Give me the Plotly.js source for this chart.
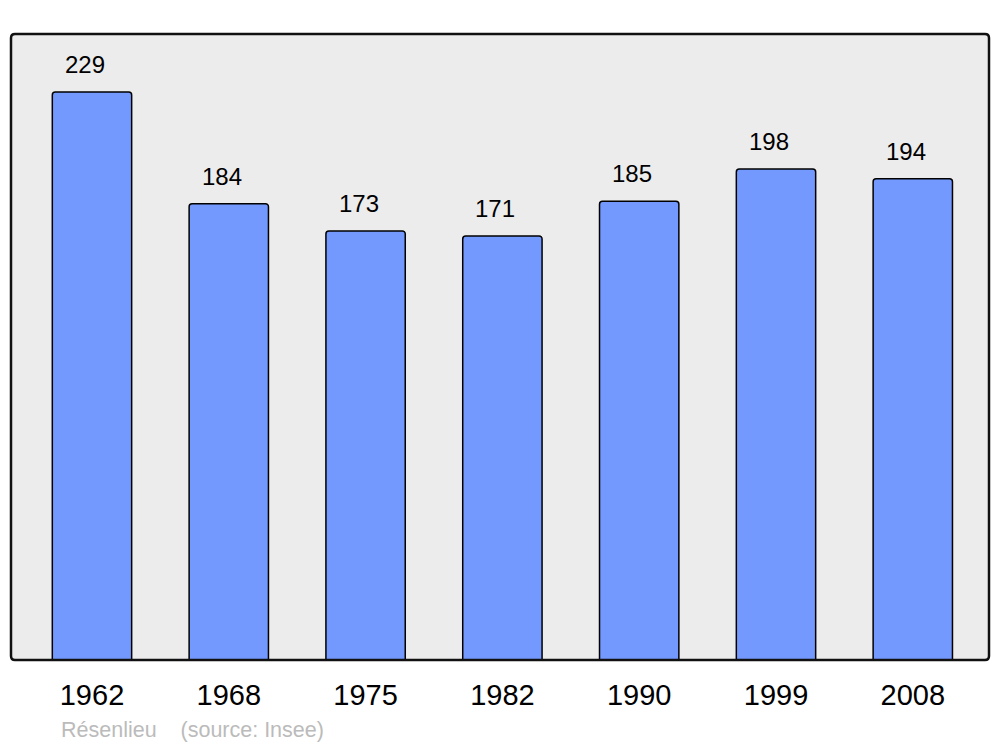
<!DOCTYPE html>
<html>
<head>
<meta charset="utf-8">
<script src="https://cdn.plot.ly/plotly-3.0.1.min.js"></script>
<style>html,body{margin:0;padding:0;background:#fff;}#chart{width:1000px;height:747px;}</style>
</head>
<body>
<div id="chart"></div>
<script>
const years = ["1962", "1968", "1975", "1982", "1990", "1999", "2008"];
const population = [229, 184, 173, 171, 185, 198, 194];
const sourceText = "Résenlieu    (source: Insee)";

const trace = {
  type: "bar",
  x: years,
  y: population,
  width: 0.58,
  marker: {color: "#7399FF", line: {color: "#000", width: 1.5}, cornerradius: 3},
  hoverinfo: "x+y"
};

const annotations = years.map((yr, i) => ({
  x: i, y: population[i], xref: "x", yref: "y",
  text: String(population[i]), showarrow: false,
  xanchor: "center", yanchor: "bottom", xshift: -7, yshift: 12,
  font: {family: "Liberation Sans, Arial, sans-serif", size: 24, color: "#000"}
}));
annotations.push({
  xref: "paper", yref: "paper", x: 0.0495, y: -0.112,
  xanchor: "left", yanchor: "middle", showarrow: false,
  text: sourceText.replace(/ /g, "&nbsp;"),
  font: {family: "Liberation Sans, Arial, sans-serif", size: 21.5, color: "#BBBBBB"}
});

// rounded frame path in paper coordinates
const rx = 4 / 978, ry = 4 / 626;
const framePath = `M ${rx} 0 L ${1 - rx} 0 Q 1 0 1 ${ry} L 1 ${1 - ry} Q 1 1 ${1 - rx} 1 ` +
  `L ${rx} 1 Q 0 1 0 ${1 - ry} L 0 ${ry} Q 0 0 ${rx} 0 Z`;

const layout = {
  width: 1000, height: 747,
  margin: {l: 11, r: 11, t: 34, b: 87},
  paper_bgcolor: "#FFFFFF",
  plot_bgcolor: "#ECECEC",
  showlegend: false,
  bargap: 0.42,
  xaxis: {
    type: "category", range: [-0.592, 6.557],
    showgrid: false, zeroline: false, showline: false, ticks: "",
    tickfont: {family: "Liberation Sans, Arial, sans-serif", size: 29, color: "#000"},
    ticklabelstandoff: 15, fixedrange: true
  },
  yaxis: {
    range: [0, 252.4], showgrid: false, zeroline: false, showline: false,
    showticklabels: false, ticks: "", fixedrange: true
  },
  annotations: annotations,
  shapes: [{
    type: "path", xref: "paper", yref: "paper", path: framePath,
    line: {color: "#111", width: 2.5}, layer: "above"
  }]
};

Plotly.newPlot("chart", [trace], layout, {displayModeBar: false, staticPlot: true});
</script>
</body>
</html>
